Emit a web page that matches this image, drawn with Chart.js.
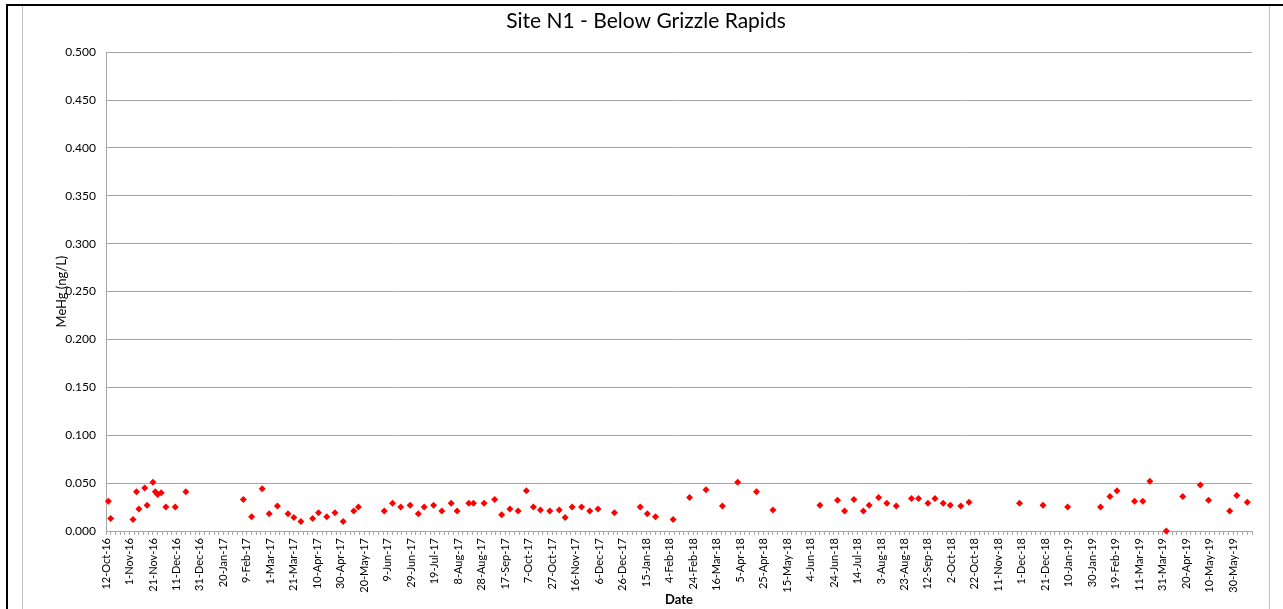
<!DOCTYPE html>
<html>
<head>
<meta charset="utf-8">
<script src="https://cdn.jsdelivr.net/npm/chart.js@4.4.1/dist/chart.umd.min.js"></script>
<style>
  html, body { margin: 0; padding: 0; background: #fff; overflow: hidden; }
  body { width: 1283px; height: 609px; position: relative; }
  .frame { position: absolute; left: 6px; top: 4px; right: 0; bottom: 0;
           border-top: 2px solid #000; border-left: 2px solid #000; }
  .box { position: absolute; left: 22px; top: 6px; width: 1246px; height: 603px;
         border-left: 1px solid #bfbfbf; border-right: 1px solid #bfbfbf; }
  .box canvas { position: absolute; left: 0; top: 1px; }
</style>
</head>
<body>
<div class="frame"></div>
<div class="box"><canvas id="mehgChart" width="1246" height="602"></canvas></div>
<script>
// sample dates and MeHg (ng/L)
const sampleDates = [
  "2016-10-14","2016-10-16","2016-11-04","2016-11-07","2016-11-09","2016-11-14","2016-11-16",
  "2016-11-21","2016-11-23","2016-11-25","2016-11-28","2016-12-02","2016-12-10","2016-12-19",
  "2017-02-06","2017-02-13","2017-02-22","2017-02-28","2017-03-07","2017-03-16","2017-03-21",
  "2017-03-27","2017-04-06","2017-04-11","2017-04-18","2017-04-25","2017-05-02","2017-05-11","2017-05-15",
  "2017-06-06","2017-06-13","2017-06-20","2017-06-28","2017-07-05","2017-07-10","2017-07-18",
  "2017-07-25","2017-08-02","2017-08-07","2017-08-17","2017-08-21","2017-08-30",
  "2017-09-08","2017-09-14","2017-09-21","2017-09-28","2017-10-05","2017-10-11","2017-10-17",
  "2017-10-25","2017-11-02","2017-11-07","2017-11-13","2017-11-21","2017-11-28","2017-12-05","2017-12-19",
  "2018-01-10","2018-01-16","2018-01-23","2018-02-07","2018-02-21","2018-03-07","2018-03-21",
  "2018-04-03","2018-04-19","2018-05-03",
  "2018-06-12","2018-06-27","2018-07-03","2018-07-11","2018-07-19","2018-07-24","2018-08-01",
  "2018-08-08","2018-08-16","2018-08-29","2018-09-04","2018-09-12","2018-09-18","2018-09-25",
  "2018-10-01","2018-10-10","2018-10-17",
  "2018-11-29","2018-12-19","2019-01-09","2019-02-06","2019-02-14","2019-02-20","2019-03-07",
  "2019-03-14","2019-03-20","2019-04-03","2019-04-17","2019-05-02","2019-05-09","2019-05-27",
  "2019-06-02","2019-06-11"
];
const mehgValues = [
  0.031, 0.013, 0.012, 0.041, 0.023, 0.045, 0.027,
  0.051, 0.041, 0.038, 0.040, 0.025, 0.025, 0.041,
  0.033, 0.015, 0.044, 0.018, 0.026, 0.018, 0.014,
  0.010, 0.013, 0.019, 0.015, 0.019, 0.010, 0.021, 0.025,
  0.021, 0.029, 0.025, 0.027, 0.018, 0.025, 0.027,
  0.021, 0.029, 0.021, 0.029, 0.029, 0.029,
  0.033, 0.017, 0.023, 0.021, 0.042, 0.025, 0.022,
  0.021, 0.022, 0.014, 0.025, 0.025, 0.021, 0.023, 0.019,
  0.025, 0.018, 0.015, 0.012, 0.035, 0.043, 0.026,
  0.051, 0.041, 0.022,
  0.027, 0.032, 0.021, 0.033, 0.021, 0.027, 0.035,
  0.029, 0.026, 0.034, 0.034, 0.029, 0.034, 0.029,
  0.027, 0.026, 0.030,
  0.029, 0.027, 0.025, 0.025, 0.036, 0.042, 0.031,
  0.031, 0.052, 0.000, 0.036, 0.048, 0.032, 0.021,
  0.037, 0.030
];

// x axis: days counted from the first axis date
const axisStart = "2016-10-12";
const axisEndDays = 976;
const majorStepDays = 20;
const minorStepDays = 4;
const monthNames = ["Jan","Feb","Mar","Apr","May","Jun","Jul","Aug","Sep","Oct","Nov","Dec"];

const DAY = 86400000;
const t0 = Date.parse(axisStart + "T00:00:00Z");
const toDays = (s) => Math.round((Date.parse(s + "T00:00:00Z") - t0) / DAY);

function dayLabel(d) {
  const dt = new Date(t0 + d * DAY);
  return dt.getUTCDate() + "-" + monthNames[dt.getUTCMonth()] + "-" + String(dt.getUTCFullYear()).slice(2);
}

const points = sampleDates.map((s, i) => ({ x: toDays(s), y: mehgValues[i] }));
const gridGray = "#a6a6a6";
const fontFam = "Lato, 'Open Sans', sans-serif";

new Chart(document.getElementById("mehgChart"), {
  type: "scatter",
  data: {
    datasets: [{
      data: points,
      pointStyle: "rectRot",
      pointRadius: 3.5,
      pointHoverRadius: 3.5,
      backgroundColor: "#ff0000",
      borderColor: "#ff0000",
      borderWidth: 0,
      clip: false
    }]
  },
  options: {
    responsive: false,
    animation: false,
    layout: { padding: 0 },
    plugins: {
      legend: { display: false },
      tooltip: { enabled: false },
      title: {
        display: true,
        text: "Site N1 - Below Grizzle Rapids",
        color: "#000",
        font: { family: fontFam, size: 21, weight: "normal" },
        padding: { top: 2, bottom: 18 }
      }
    },
    scales: {
      x: {
        type: "linear",
        min: 0,
        max: axisEndDays,
        afterFit: (s) => { s.height = 78; },
        border: { color: gridGray, width: 1 },
        grid: { drawOnChartArea: false, drawTicks: true, tickLength: 4, color: gridGray },
        ticks: {
          stepSize: minorStepDays,
          maxTicksLimit: 400,
          autoSkip: false,
          minRotation: 90,
          maxRotation: 90,
          padding: 3,
          color: "#000",
          font: { family: fontFam, size: 11 },
          callback: (v) => (v % majorStepDays === 0 ? dayLabel(v) : "")
        },
        title: {
          display: true,
          text: "Date",
          color: "#000",
          font: { family: fontFam, size: 13, weight: "bold" },
          padding: { top: 0, bottom: 1 }
        }
      },
      y: {
        min: 0,
        max: 0.5,
        afterFit: (s) => { s.width = 83; },
        border: { color: gridGray, width: 1 },
        grid: { color: gridGray, drawTicks: false },
        ticks: {
          stepSize: 0.05,
          padding: 10,
          color: "#000",
          font: { family: fontFam, size: 12 },
          callback: (v) => v.toFixed(3)
        },
        title: {
          display: true,
          text: "MeHg (ng/L)",
          color: "#000",
          font: { family: fontFam, size: 13 },
          padding: { top: 31, bottom: 0 }
        }
      },
      // empty right margin so the title stays centred on the whole box
      yRight: {
        position: "right",
        afterFit: (s) => { s.width = 17; },
        border: { display: false },
        grid: { drawOnChartArea: false, drawTicks: false },
        ticks: { display: false }
      }
    }
  }
});
</script>
</body>
</html>
